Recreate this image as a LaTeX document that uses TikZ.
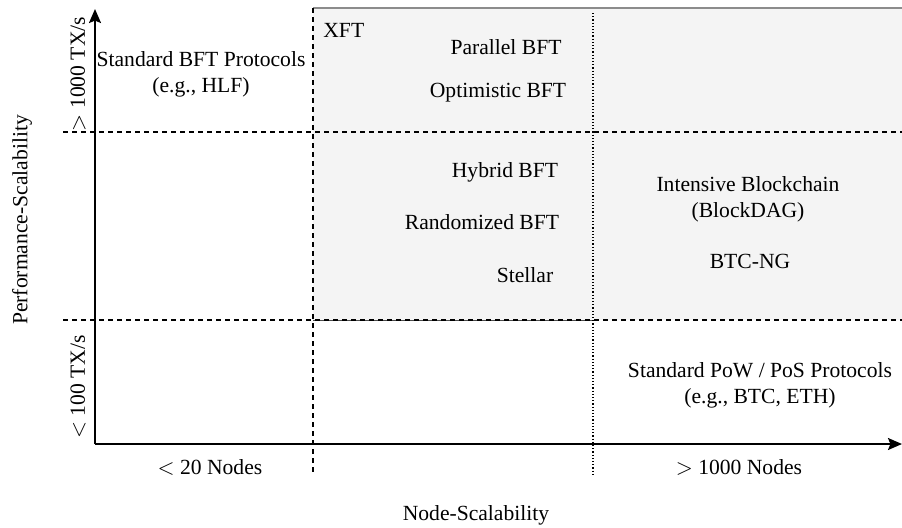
\documentclass[tikz,border=0pt]{standalone}
\usepackage{fontspec}
\setmainfont{Liberation Serif}
\usepackage{xcolor}
\definecolor{RegionFill}{RGB}{244,244,244}
\definecolor{RegionBorder}{RGB}{140,140,140}
\definecolor{AxisColor}{RGB}{0,0,0}
\usetikzlibrary{
  positioning,
  arrows.meta
}
\tikzset{
  % Axis with arrow head
  axis/.style={
    draw=AxisColor,
    line width=0.9pt,
    -{Stealth[length=7pt,width=6pt,inset=1.2pt]}
  },
  % Dashed separator
  sep/.style={
    draw=black,
    line width=0.6pt,
    dash pattern=on 2.5pt off 2pt
  },
  % Dotted separator
  dsep/.style={
    draw=black,
    line width=0.6pt,
    densely dotted
  },
  % Plain label
  lbl/.style={
    font=\fontsize{10.8}{13}\selectfont,
    inner sep=0pt,
    align=center
  },
  % Rotated label (y axis)
  ylbl/.style={
    lbl,
    rotate=90
  }
}

\begin{document}
\begin{tikzpicture}[x=0.5pt,y=-0.5pt]
  \useasboundingbox (0,0) rectangle (902,527);
  % shaded region
  \fill[RegionFill] (313,8) rectangle (902,320);
  \coordinate (rtl) at (313,8);
  \coordinate (rtr) at (902,8);
  \coordinate (rbl) at (313,320);
  \coordinate (rbm) at (593,320);
  \draw[RegionBorder, line width=0.8pt] (rtl) -- (rtr);
  \draw[black!70, line width=0.5pt] (rbl) -- (rbm);
  % separators
  \coordinate (h1w) at (63,132);
  \coordinate (h1e) at (902,132);
  \coordinate (h2w) at (63,320);
  \coordinate (h2e) at (902,320);
  \coordinate (v1n) at (313,8);
  \coordinate (v1s) at (313,475);
  \coordinate (v2n) at (593,13);
  \coordinate (v2s) at (593,475);
  \draw[sep] (h1w) -- (h1e);
  \draw[sep] (h2w) -- (h2e);
  \draw[sep] (v1n) -- (v1s);
  \draw[dsep] (v2n) -- (v2s);
  % axes
  \coordinate (o) at (95,444);
  \coordinate (ytip) at (95,9);
  \coordinate (xtip) at (902,444);
  \draw[axis] (o) -- (ytip);
  \draw[axis] (o) -- (xtip);
  % axis labels
  \node[ylbl] (yhigh) at (78,74) {$>$ 1000 TX/s};
  \node[ylbl] (ylow) at (78,387) {$<$ 100 TX/s};
  \node[ylbl] (ytitle) at (22,220) {Performance-Scalability};
  \node[lbl] (xlow) at (210,467) {$<$ 20 Nodes};
  \node[lbl] (xhigh) at (739,467) {$>$ 1000 Nodes};
  \node[lbl] (xtitle) at (476,515) {Node-Scalability};
  % protocols
  \node[lbl] (stdbft) at (201,74) {Standard BFT Protocols\\(e.g., HLF)};
  \node[lbl, anchor=west] (xft) at (323,30) {XFT};
  \node[lbl] (parbft) at (506,47) {Parallel BFT};
  \node[lbl] (optbft) at (498,93) {Optimistic BFT};
  \node[lbl] (hybbft) at (505,172) {Hybrid BFT};
  \node[lbl] (rndbft) at (482,222) {Randomized BFT};
  \node[lbl] (stellar) at (525,275) {Stellar};
  \node[lbl] (dag) at (748,199) {Intensive Blockchain\\(BlockDAG)};
  \node[lbl] (btcng) at (750,261) {BTC-NG};
  \node[lbl] (stdpow) at (760,385) {Standard PoW / PoS Protocols\\(e.g., BTC, ETH)};
\end{tikzpicture}
\end{document}
